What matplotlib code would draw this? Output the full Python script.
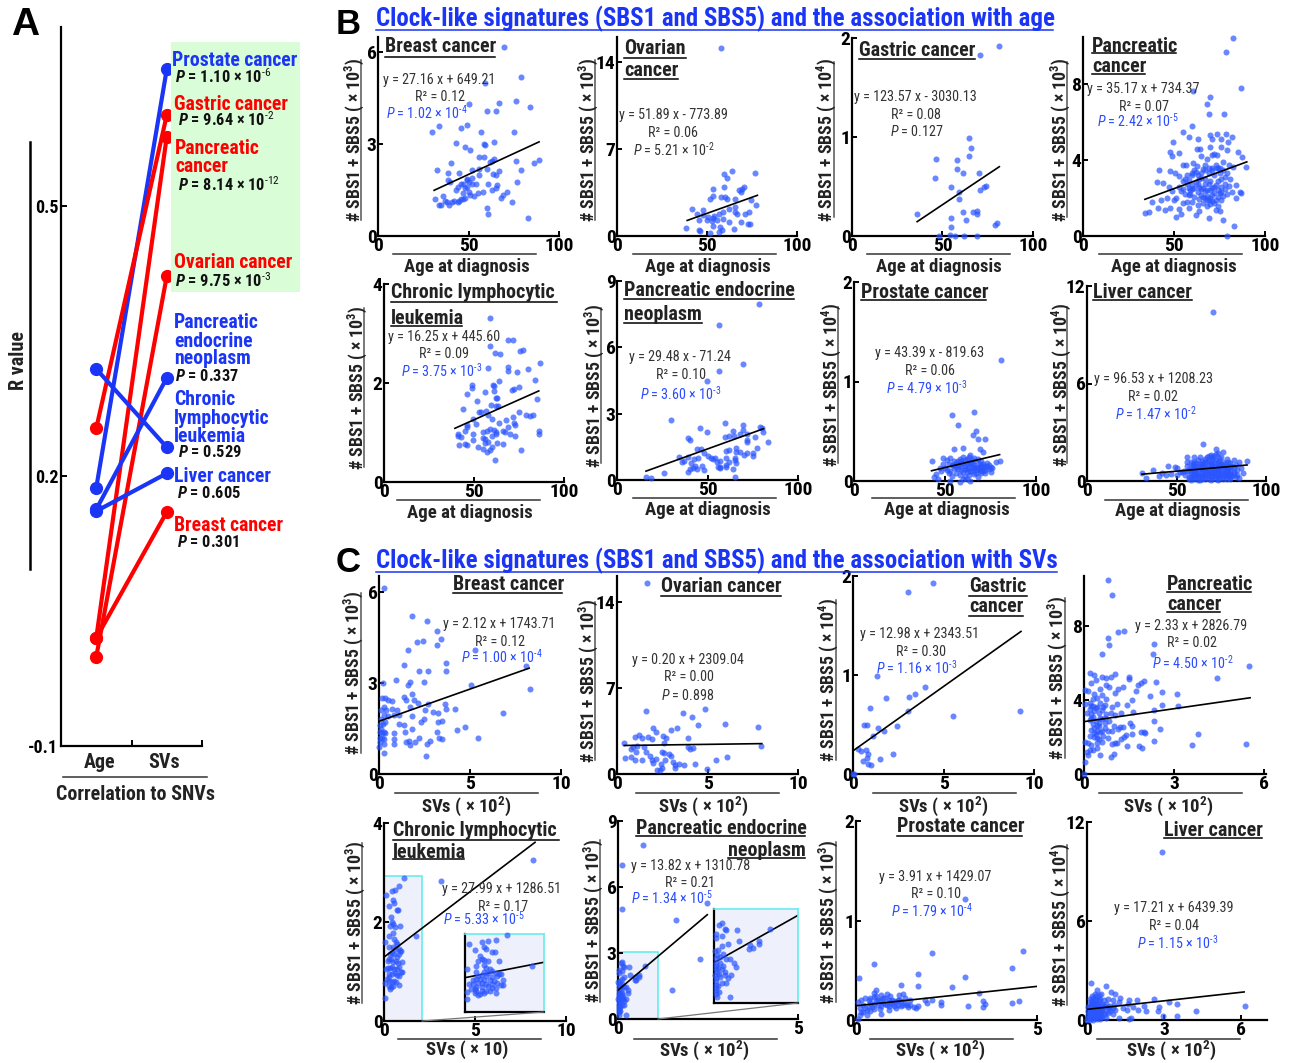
# Clock-like signatures figure: slope panel A, scatter panels B and C

import numpy as np
from matplotlib import pyplot as plt
from matplotlib import font_manager
from matplotlib.lines import Line2D
from matplotlib.patches import Rectangle

W, H = 1292, 1063
installed = set(f.name for f in font_manager.fontManager.ttflist)
FONT = 'Roboto'
for cand in ['Liberation Sans Narrow', 'Roboto Condensed', 'Noto Sans Condensed', 'Open Sans Condensed']:
    if cand in installed:
        FONT = cand
        break
plt.rcParams['font.family'] = [FONT, 'Liberation Sans', 'DejaVu Sans']
plt.rcParams['mathtext.fontset'] = 'custom'
plt.rcParams['mathtext.rm'] = FONT
plt.rcParams['mathtext.it'] = FONT + ':italic'
plt.rcParams['mathtext.bf'] = FONT + ':bold'
plt.rcParams['mathtext.bfit'] = FONT + ':italic:bold'
plt.rcParams['mathtext.default'] = 'regular'

# ---- panel A
a_cancers = ['Prostate', 'Gastric', 'Pancreatic', 'Ovarian', 'PEN', 'CLL', 'Liver', 'Breast']
a_age = [0.187, 0.253, 0.020, -0.001, 0.163, 0.319, 0.161, 0.020]
a_svs = [0.652, 0.601, 0.577, 0.422, 0.309, 0.232, 0.203, 0.160]
a_sig = ['b', 'r', 'r', 'r', 'b', 'b', 'b', 'r']

# ---- panel B, (age, count)
b_breast = [(69.6,6.16),(79,5.17),(59,4.98),(76,4.4),(84,4.22),(67,4.35),(50,4.3),(60,4.08),(65,4.08),(30,3.38),(33.6,3.59),(45.8,3.51),(49,3.62),(57,3.38),(75,3.4),(43,3.02),(48,2.91),(50.7,2.8),(58.5,3.0),(59,2.98),(64,3.05),(56,2.58),(58.5,2.58),(63,2.45),(76,2.44),(89,2.48),(86,2.37),(79,2.15),(32.7,2.15),(40.6,2.37),(38.7,2.07),(45,2.07),(51.7,2.15),(55.7,2.2),(63.6,2.02),(66.8,2.12),(38.7,1.82),(49,1.82),(77,1.77),(31.5,1.2),(33.8,1.0),(35,1.0),(36,1.3),(37,1.15),(38,1.1),(39,1.0),(40,1.75),(41,1.1),(42,1.15),(43,1.5),(44,1.6),(45,1.15),(46,1.2),(47,1.7),(47,1.4),(48,1.25),(48,1.55),(49,1.85),(49,1.6),(50,1.45),(50,1.75),(51,1.35),(52,1.7),(53,1.3),(54,1.7),(55,1.4),(56,2.0),(58,1.45),(60,2.2),(61,1.7),(62,2.4),(63,1.5),(64,2.5),(65,1.55),(66,1.65),(68,1.25),(69,1.35),(71,1.45),(74,1.1),(60,.9),(61,.72),(83,.6),(52,1.9),(47,1.2),(46,1.7),(44,1.1),(65,2.0)]
b_ovarian = [(57.7,15.1),(63.8,5.25),(76.7,5.07),(59.7,4.99),(61,4.64),(53.6,3.75),(59.7,3.9),(70.8,3.9),(67.5,3.7),(68.8,3.56),(69.7,3.75),(53.6,3.2),(51.4,3.0),(57.7,3.15),(60,3.15),(61,2.94),(65.6,2.96),(74.3,2.88),(77,2.48),(41.6,2.2),(48,2.07),(44.4,1.75),(50.8,1.54),(53.6,1.48),(56.4,1.8),(55.5,1.27),(59,1.94),(62,2.2),(65.6,2.34),(65.6,1.94),(66.5,1.8),(71,1.8),(73.5,1.94),(68.8,1.13),(73,1.0),(74,1.0),(62,1.13),(53.6,.78),(57.3,.73),(56.4,.32),(65,.6),(38.4,.65),(45.3,.46),(46,.42),(51.8,.27),(58.2,.51),(50,1.27),(52.7,1.2),(45.3,1.27),(59,1.4),(54,1.6),(47.5,1.7)]
b_gastric = [(81,1.92),(70.9,1.83),(64.8,.99),(66,.885),(64.8,.81),(46.6,.78),(58,.77),(58,.68),(61.1,.64),(70,.64),(46,.59),(54.9,.5),(74,.51),(72.7,.5),(70.9,.46),(58.9,.44),(58.9,.37),(35.9,.22),(61.1,.24),(66.7,.245),(68.9,.25),(68.9,.22),(54.9,.18),(63,.16),(54.9,.09),(80,.135),(79.2,.11),(47.9,0),(54,.015),(57,0),(62,0),(68.9,0)]
b_pancreatic = [(82.6,10.4),(78.4,9.7),(86.6,7.77),(60.7,7.65),(69.8,7.33),(68,6.93),(69,6.42),(77.5,6.42),(59.8,5.79),(54.7,5.46),(58,5.2),(73.5,5.35),(78.6,5.35),(81.7,5.23),(49.7,4.93),(63.4,5.1),(69.8,5.3),(70.8,5.1),(75.7,5.1),(79.5,4.96),(47.9,4.44),(52.8,4.35),(48.8,4.23),(62.5,4.6),(64.3,4.58),(69.8,4.7),(75.7,4.7),(79,4.53),(73.9,4.26),(85.4,4.44),(87.6,4.18),(89.4,3.65),(42,3.47),(47.9,3.44),(55.2,3.74),(56.5,3.74),(60.7,3.82),(62.5,3.7),(67,3.74),(70.8,3.56),(73.5,3.56),(82.6,3.65),(40.6,2.86),(44.2,2.77),(47,2.6),(50.6,3.3),(52.5,3.18),(57,3.2),(59.8,3.2),(63.4,3.2),(65,3.05),(67,3.0),(69,3.3),(72,3.2),(75,3.3),(78,3.1),(81,3.0),(84,2.7),(46,2.0),(49,2.35),(51,2.0),(53,2.6),(55,2.45),(56,2.2),(58,2.5),(59,2.2),(60,2.7),(61,2.05),(62,2.85),(63,2.3),(64,2.6),(65,2.15),(66,2.5),(67,2.35),(68,2.1),(69,2.75),(70,2.0),(71,2.55),(72,2.25),(73,1.9),(74,2.9),(75,2.25),(76,2.6),(77,2.1),(78,2.45),(79,2.2),(80,2.65),(82,2.3),(84,2.0),(86,2.3),(87,2.25),(34,1.2),(36.5,1.25),(38,1.8),(41,1.45),(43,1.9),(45,1.35),(48,1.45),(50,1.9),(51,1.0),(53,1.4),(54,1.15),(55,1.75),(57,1.8),(58,1.45),(60,1.8),(62,1.1),(63,1.65),(64,1.3),(66,1.75),(68,1.6),(69,.95),(71,1.85),(73,1.35),(75,1.3),(77,.85),(79,0),(83,.55),(56,3.0),(61,3.45),(66,3.55),(68,4.05),(71,4.25),(74,3.6),(77,3.9),(65,4.2),(60,3.3),(58,2.95),(55,2.9),(72,4.3),(80,3.75),(76,3.0),(70,2.9),(64,3.0),(62,3.35),(73,2.7),(67,2.0),(69,1.9),(71,2.15),(74,2.05),(60,2.45),(58,2.15),(54,2.35),(57,2.75),(59,2.4),(61,2.55),(63,2.75),(65,2.45),(67,2.75),(68,2.4),(70,2.4),(72,2.6),(74,2.4),(76,2.3),(78,2.75),(64,1.95),(66,2.05),(68,1.9),(70,1.7),(72,1.75),(74,1.6),(76,1.9),(65,3.3),(67,3.45),(69,3.6),(71,3.45),(73,3.75),(75,3.6),(77,3.45),(79,3.3)]
b_cll = [(58.8,3.32),(58.9,2.75),(69,2.87),(71.7,2.87),(75.5,2.65),(77,2.66),(61.5,2.6),(64.5,2.58),(86.5,2.4),(69,2.33),(69,2.25),(80,2.28),(74,2.23),(57.5,2.3),(49,1.95),(49,1.9),(84,2.07),(60.5,1.96),(61,1.94),(64,2.04),(72,1.88),(71,1.86),(75,1.92),(46,1.78),(56,1.81),(61,1.83),(62,1.7),(63,1.7),(51.5,1.63),(85,1.67),(44,1.47),(59.5,1.55),(62,1.53),(63.5,1.53),(53,1.41),(54,1.41),(56.5,1.43),(58,1.36),(75,1.41),(79,1.35),(81,1.34),(83,1.35),(71.5,1.32),(49.5,1.28),(60,1.28),(68,1.25),(72,1.2),(64,1.2),(46,1.16),(46,1.12),(45,1.03),(51,1.17),(73,1.15),(69,1.12),(57,1.03),(59,1.08),(61,1.05),(55,1.02),(62,1.02),(66,1.03),(67,1.0),(86,1.03),(86,.97),(41,.97),(41,.92),(43,.91),(49.5,.97),(49.5,.85),(55,.88),(56,.86),(60,.92),(62,.97),(70,.97),(73,.93),(41.5,.74),(45,.77),(46,.74),(52,.7),(55,.66),(57,.6),(59,.65),(60,.7),(63,.78),(66,.77),(76,.65),(61.5,.45),(56,.78),(58,.8)]
b_pen = [(78.6,7.95),(56.4,7.03),(69.4,5.25),(56.4,4.95),(49.8,4.48),(29.7,2.7),(59.5,2.6),(69.4,2.5),(78.8,2.4),(80,2.35),(46.1,2.35),(49.7,2.15),(39,1.9),(40.6,1.82),(59.7,1.95),(62,1.97),(64,2.2),(64.5,1.97),(68,2.1),(69.5,2.25),(72,2.1),(72,1.82),(72,1.72),(76,1.95),(80.6,2.15),(83.2,1.7),(44,1.4),(46.5,1.4),(48,1.2),(50,1.1),(52,1.0),(54,1.0),(60,1.3),(62,1.35),(65.5,1.45),(66,1.25),(68,1.25),(70,1.15),(72,1.2),(75,1.2),(75,1.1),(77.5,1.45),(34.5,1.05),(39.5,1.05),(36,.8),(37,.85),(42.5,.95),(44.6,1.0),(47,.65),(41,.75),(43,.65),(42,.55),(44,.5),(39,.35),(40.5,.5),(48,.45),(53,.95),(55,.8),(56,.6),(57,.6),(57,.55),(60,.7),(60,1.0),(62,.8),(64,.5),(65,1.0),(65,.9),(66,.75),(65,.15),(16,.15),(19,.1),(26,.3),(57,.85),(60,.6)]
b_prostate = [(80.5,1.22),(54,.66),(65.8,.69),(57,.56),(67,.5),(65.5,.46),(68,.42),(72,.42),(55,.32),(60,.33),(69,.32),(71,.29),(43,.2),(49,.23),(51,.21),(53,.23),(55,.2),(57,.2),(58,.17),(60,.24),(61,.15),(62,.22),(63,.18),(64,.26),(65,.21),(66,.16),(67,.2),(68,.13),(69,.17),(70,.2),(71,.1),(72,.15),(73,.18),(74,.12),(75,.09),(78,.19),(80,.2),(45,.07),(44,.04),(46,.02),(48,.1),(50,.13),(52,.08),(53,.1),(54,.05),(55,.13),(56,.08),(57,.12),(58,.06),(59,.15),(60,.09),(61,.04),(62,.12),(63,.06),(64,.1),(65,.14),(66,.07),(67,.11),(68,.04),(69,.1),(70,.12),(72,.08),(74,.16),(76,.13),(58,-.01),(60,.02),(62,.02),(64,.0),(53,.0),(49,.17),(52,.17),(55,.16),(59,.2),(62,.17),(65,.17),(68,.22),(70,.15),(56,.18),(58,.22),(60,.18),(61,.21),(63,.24),(64,.19),(66,.23),(67,.14),(69,.12),(71,.17),(72,.11),(73,.14),(75,.14),(59,.11),(61,.12),(62,.09),(63,.13),(65,.1),(66,.13),(67,.08),(69,.15),(70,.08),(71,.14),(54,.16),(57,.16),(56,.14),(51,.11),(47,.13)]
b_liver = [(70.3,10.4),(65,2.3),(72,2),(76,1.8),(73,1.7),(69,1.6),(56,1.5),(60,1.45),(63,1.5),(67,1.45),(71,1.55),(75,1.45),(78,1.35),(82,1.3),(85,1.2),(89.5,1.25),(31,.5),(37,.65),(42,.5),(45,.9),(49,.85),(50,.8),(53,.55),(56,1.2),(58,1.15),(60,1.2),(62,1.3),(64,1.25),(66,1.2),(68,1.3),(70,1.35),(72,1.3),(74,1.25),(76,1.15),(80,1.1),(83,1.0),(86,.8),(56,.9),(58,.85),(60,.95),(62,.9),(64,1.0),(66,.85),(68,1.0),(70,1.05),(72,.95),(74,1.0),(76,.9),(78,.95),(80,.85),(82,.8),(84,.7),(87,.5),(33,.2),(40,.3),(44,.35),(47,.45),(50,.4),(52,.55),(54,.6),(55,.35),(56,.6),(58,.55),(60,.6),(62,.65),(64,.7),(66,.6),(68,.7),(70,.75),(72,.7),(74,.75),(76,.65),(78,.7),(80,.6),(82,.55),(84,.4),(85,.2),(57,.25),(59,.3),(61,.35),(63,.3),(65,.4),(67,.35),(69,.45),(71,.4),(73,.45),(75,.4),(77,.35),(79,.4),(81,.3),(83,.25),(58,.05),(60,.1),(62,.05),(64,.15),(66,.1),(68,.15),(70,.2),(72,.15),(74,.2),(76,.1),(78,.15),(80,.1),(57,.1),(63,.05),(69,.05),(73,.05),(59,.8),(65,.75),(71,.85),(77,.8),(61,.5),(67,.55),(73,.6),(79,.55),(59,1.05),(61,1.1),(63,1.05),(65,1.1),(67,1.15),(69,1.1),(71,1.15),(73,1.1),(75,1.05),(77,1.05),(79,1.15),(81,.95),(57,.7),(59,.65),(61,.75),(63,.8),(65,.9),(67,.8),(69,.9),(71,.65),(73,.8),(75,.85),(77,.6),(79,.75),(58,.4),(60,.45),(62,.45),(64,.5),(66,.45),(68,.5),(70,.55),(72,.5),(74,.55),(76,.5),(78,.5),(80,.45),(82,.45),(60,.25),(62,.25),(64,.3),(66,.25),(68,.3),(70,.3),(72,.3),(74,.35),(76,.25),(78,.3),(80,.25),(66,1.35),(70,1.5),(74,1.4),(68,1.55),(72,1.65)]

# ---- panel C, (SVs, count)
c_breast = [(.3,6.15),(1.8,5.2),(2.65,5.05),(3.2,4.7),(3.4,4.45),(2.4,4.4),(2.1,4.35),(3.2,4.25),(1.6,4.1),(5.25,4.1),(1.4,3.6),(3.7,3.65),(3.7,3.4),(2.2,3.4),(2.7,3.4),(8.1,3.55),(.95,3.1),(.2,3.0),(1.7,3.05),(2.45,3.05),(1.6,2.95),(5.05,2.95),(8.3,2.8),(.15,2.5),(.35,2.5),(.5,2.45),(.7,2.4),(1.4,2.55),(1.5,2.45),(1.8,2.65),(1.9,2.45),(2.15,2.35),(2.7,2.3),(3.6,2.3),(3.7,2.15),(4.2,2.15),(.1,2.1),(.25,2.2),(.4,2.1),(.7,2.15),(1.0,2.1),(1.7,2.2),(1.8,1.9),(2.5,2.1),(2.95,2.05),(3.25,2.0),(6.8,2.0),(.1,1.8),(.3,1.95),(.5,1.9),(.8,1.95),(1.1,1.95),(2.45,1.8),(2.3,1.7),(3.45,1.75),(3.25,1.7),(.05,1.6),(.1,1.5),(.2,1.65),(.35,1.7),(1.1,1.65),(1.4,1.6),(.05,1.4),(.15,1.35),(.25,1.4),(.35,1.35),(.85,1.35),(1.45,1.4),(1.8,1.5),(3.2,1.4),(4.3,1.45),(4.75,1.55),(.05,1.2),(.15,1.2),(.3,1.15),(.8,1.15),(1.65,1.1),(3.3,1.2),(3.45,1.15),(5.45,1.2),(.05,1.05),(.3,1.0),(.8,1.0),(1.5,1.05),(1.7,.95),(2.0,1.05),(2.2,1.2),(2.65,1.0),(2.8,1.1),(.0,.9),(.3,.7),(2.6,.6)]
c_ovarian = [(1.65,15.5),(1.6,5.1),(3.65,5.0),(4.85,5.3),(4.15,4.6),(4.5,4.0),(5.95,4.1),(7.8,3.85),(2,3.7),(2.15,3.4),(3.0,3.6),(3.3,3.7),(2.55,3.1),(1.2,3.2),(1.0,3.0),(1.4,2.9),(1.7,3.0),(1.95,2.85),(2.7,2.9),(3.95,2.9),(.4,2.5),(.9,2.2),(1.1,2.25),(1.5,2.2),(2.6,2.5),(3.95,2.2),(4.05,2.0),(4.2,2.1),(7.95,2.25),(.8,2.0),(1.05,1.8),(1.6,1.8),(1.8,1.5),(2.5,1.8),(2.6,1.7),(2.85,1.6),(3.0,1.5),(.45,1.3),(.75,1.4),(1.0,1.1),(1.4,1.15),(1.95,1.1),(2.15,1.2),(2.65,1.15),(3.1,1.0),(3.4,.8),(3.7,.7),(4.3,.8),(5.45,1.15),(6.1,1.35),(2.0,.9),(2.45,.8),(3.2,.7),(2.2,.3),(2.5,.45),(2.4,.3),(3.2,.45),(4.95,.4)]
c_gastric = [(4.4,1.93),(3.05,1.84),(1.3,.99),(1.8,.77),(4.0,.88),(3.4,.81),(3.1,.78),(.95,.67),(3.05,.64),(9.25,.64),(5.5,.59),(.6,.5),(.75,.49),(2.45,.48),(1.4,.46),(1.7,.43),(1.1,.38),(.25,.25),(.45,.23),(.7,.24),(.85,.2),(.8,.16),(2.2,.2),(1.5,.15),(.55,.13),(.85,.1),(1.0,.09),(0,0),(.05,0)]
c_pancreatic = [(.8,10.5),(.95,9.7),(1.15,7.65),(1.35,7.75),(.8,7.35),(.85,6.95),(.6,6.5),(2.35,7.0),(2.3,6.5),(5.5,5.85),(4.45,5.2),(.2,5.45),(.35,5.35),(.4,5.1),(.6,5.25),(.75,5.2),(.9,5.25),(1.05,5.4),(1.5,5.25),(1.5,5.15),(2.0,5.0),(2.4,4.95),(1.9,4.9),(1.8,4.8),(.25,4.9),(.55,4.6),(.75,4.8),(.85,4.7),(1.15,4.6),(1.3,4.7),(1.75,4.5),(2.6,4.45),(.05,4.55),(.15,4.5),(.35,4.3),(.45,4.1),(.6,4.25),(.75,4.05),(1.05,4.4),(2.2,4.2),(3.1,4.35),(.05,3.8),(.2,3.85),(.3,3.7),(.45,3.6),(.55,3.85),(.7,3.75),(.95,3.6),(1.1,3.8),(1.45,3.75),(1.6,4.0),(2.6,3.75),(3.15,3.7),(.1,3.3),(.2,3.5),(.25,3.25),(.35,3.4),(.5,3.3),(.6,3.45),(.75,3.25),(.9,3.3),(1.05,3.2),(1.25,3.3),(1.65,3.35),(2.35,3.45),(.2,2.9),(.3,2.7),(.4,2.85),(.45,2.6),(.6,2.95),(.7,2.75),(.85,2.85),(1.0,2.6),(1.2,2.55),(1.3,2.55),(1.55,2.75),(1.6,2.6),(2.35,2.85),(2.55,2.45),(.25,2.4),(.35,2.5),(.45,2.3),(.55,2.25),(.7,2.5),(.8,2.35),(.95,2.3),(1.15,2.45),(1.4,2.1),(1.6,2.15),(1.9,2.25),(2.0,2.25),(2.05,2.2),(.2,2.05),(.35,2.0),(.5,1.9),(.65,2.05),(.8,1.95),(.95,1.6),(1.05,1.7),(1.25,1.9),(1.35,2.0),(2.35,1.8),(3.8,2.15),(.05,1.75),(.15,1.65),(.25,1.55),(.45,1.7),(.6,1.75),(1.1,1.65),(1.45,1.5),(1.85,1.5),(1.95,1.4),(3.6,1.55),(5.4,1.6),(.1,1.2),(.15,1.0),(.2,1.3),(.3,1.3),(.45,1.4),(.55,1.0),(1.0,1.1),(.9,.9),(.05,.65),(0,0),(.3,3.1),(.4,3.55),(.5,2.75),(.55,3.05),(.65,3.6),(.4,2.15),(.5,2.6),(.6,2.35),(.7,3.0),(.25,3.05),(.35,2.2),(.45,1.95),(.3,4.05),(.25,3.7)]
c_cll = [(8.17,3.25),(3.12,2.82),(1.1,2.88),(.8,2.72),(.6,2.65),(.45,2.62),(.1,2.55),(.5,2.45),(.25,2.33),(.55,2.38),(.72,2.25),(.78,2.24),(.4,2.1),(.45,2.0),(.35,1.92),(.5,1.95),(.6,1.9),(.9,1.92),(.05,1.6),(1.75,1.72),(.3,1.72),(.5,1.78),(.55,1.65),(.65,1.6),(.72,1.55),(.5,1.5),(.6,1.45),(.8,1.45),(.9,1.42),(.95,1.42),(.35,1.35),(.45,1.38),(.55,1.35),(.85,1.35),(.2,1.22),(.3,1.25),(.5,1.2),(.65,1.22),(.75,1.18),(1.0,1.2),(.1,1.05),(.2,1.07),(.35,1.08),(.45,1.1),(.55,1.05),(.7,1.05),(.85,1.1),(1.0,1.0),(.3,.95),(.45,.95),(.6,.97),(.7,.92),(.8,.9),(.95,1.0),(.15,.85),(.25,.88),(.05,.77),(.3,.8),(.45,.78),(.55,.8),(.65,.78),(.8,.72),(.25,.7),(.35,.65),(.4,.68),(.5,.7),(.05,.47),(.3,1.5),(.7,1.3),(.4,1.25)]
c_pen = [(.7,7.92),(.1,7.0),(.1,5.0),(2.48,5.27),(1.62,4.48),(2.29,2.73),(1.5,1.33),(.74,2.41),(.59,2.02),(.59,1.91),(.47,1.89),(.51,1.78),(.46,1.76),(.33,2.02),(.3,2.38),(.16,2.38),(.14,2.4),(.1,2.6),(.07,2.54),(.03,2.25),(.03,2.11),(.11,2.18),(.18,1.91),(.1,1.84),(.05,1.73),(.04,1.57),(.16,1.44),(.21,1.44),(.27,1.3),(.29,1.17),(.23,.9),(.18,.81),(.21,.18),(.1,.65),(.02,1.45),(.02,1.3),(.03,1.2),(.02,1.1),(.04,1.0),(.01,.9),(.03,.8),(.02,.7),(.03,.6),(.02,.5),(.03,.4),(.02,.3),(.04,.2),(.01,1.7),(.05,1.15),(.08,1.3),(.1,1.1),(.12,1.2),(.14,1.0),(.08,.85),(.06,.95),(.05,.55),(.06,.35),(.15,.9),(.16,.65),(.08,1.5),(.12,1.6)]
c_prostate = [(3.0,1.22),(2.1,.67),(4.6,.69),(.5,.56),(4.3,.52),(1.7,.46),(3.0,.43),(.08,.42),(1.25,.35),(1.7,.34),(2.65,.33),(.55,.3),(.5,.27),(3.4,.27),(2.1,.2),(3.5,.19),(3.55,.16),(2.35,.18),(2.35,.15),(4.3,.17),(4.5,.19),(1.9,.2),(1.95,.17),(3.1,.14),(3.5,.13),(.05,.18),(.1,.12),(.15,.2),(.2,.15),(.25,.22),(.3,.1),(.35,.2),(.4,.17),(.45,.13),(.5,.23),(.55,.19),(.6,.15),(.65,.2),(.7,.25),(.75,.17),(.8,.22),(.85,.15),(.9,.2),(.95,.18),(1.0,.16),(1.05,.14),(1.1,.18),(1.15,.15),(1.2,.25),(1.25,.19),(1.3,.26),(1.35,.17),(1.4,.15),(1.45,.13),(1.6,.13),(1.65,.12),(1.7,.14),(.1,.05),(.05,.01),(.2,.08),(.3,.05),(.4,.09),(.5,.11),(.7,.06),(.65,.11),(.9,.1),(1.1,.12),(1.5,.2),(1.2,.2),(.95,.24),(.85,.26),(.55,.24),(.6,.2),(.7,.14),(.75,.22),(.8,.16),(.9,.14),(1.0,.2),(1.05,.19),(1.15,.2),(1.25,.14),(1.3,.15),(1.35,.22),(1.5,.15),(.35,.14),(.4,.22),(.25,.12),(.15,.08),(.5,.16)]
c_liver = [(2.9,10.2),(.15,2.25),(.75,2.05),(.4,1.8),(.95,1.7),(.3,1.6),(.55,1.55),(.45,1.5),(1.1,1.55),(1.3,1.35),(1.65,1.2),(1.95,1.2),(2.6,1.3),(3.2,1.1),(3.5,.95),(.1,1.3),(.2,1.45),(.35,1.3),(.5,1.25),(.65,1.2),(.8,1.3),(1.0,1.2),(1.25,1.1),(1.6,1.0),(2.2,.85),(2.8,.8),(.1,1.0),(.2,1.1),(.3,1.05),(.4,1.0),(.5,.95),(.6,1.0),(.75,.95),(.9,.85),(1.05,.9),(1.4,.7),(1.8,.8),(2.3,.55),(2.75,.55),(4.25,.55),(6.15,.85),(.05,.8),(.15,.85),(.25,.8),(.35,.75),(.45,.8),(.55,.75),(.7,.7),(.85,.65),(1.1,.6),(1.55,.6),(2.0,.6),(2.95,.25),(3.5,.25),(.05,.55),(.15,.6),(.25,.55),(.35,.5),(.45,.55),(.55,.5),(.65,.45),(.8,.4),(1.0,.35),(1.25,.1),(1.7,.1),(.05,.3),(.1,.35),(.2,.35),(.3,.3),(.4,.3),(.5,.25),(.6,.2),(.75,.15),(.05,.1),(.1,.15),(.2,.1),(.3,.1),(.4,.05),(.5,.05),(0,0),(.1,.02),(.25,.03),(1.65,.05),(.1,.45),(.2,.7),(.25,.95),(.3,.65),(.35,.9),(.4,.6),(.45,1.2),(.5,.7),(.15,1.15),(.2,.9),(.1,.65),(.3,.45),(.35,.2),(.4,.85),(.2,.5),(.25,.2),(.15,.25),(.1,.8),(.4,.45),(.45,.35),(.3,1.2),(.35,1.45),(.25,1.35),(.15,.45),(.5,.4),(.55,.25),(.6,.6),(.65,.85),(.7,.35),(.8,.8),(.9,.55),(1.0,.7)]

# ---- regression lines, end points
b_fits = [([31,89],[1.49,3.07]), ([39,78],[1.25,3.27]), ([36,81.4],[.145,.70]), ([34,90],[1.93,3.9]),
          ([39.4,86],[1.085,1.84]), ([16,81],[.40,2.32]), ([42.6,80],[.103,.265]), ([30.7,89.4],[.417,.984])]
c_fits = [([0,8.25],[1.74,3.49]), ([.4,8],[2.32,2.47]), ([0,9.28],[.234,1.44]), ([0,5.54],[2.83,4.12]),
          ([0,8.3],[1.29,3.61]), ([0,2.48],[1.31,4.74]), ([0,5],[.143,.338]), ([0,6.11],[.644,1.70])]

y3 = '# SBS1 + SBS5 ( × 10$^{3}$)'
y4 = '# SBS1 + SBS5 ( × 10$^{4}$)'
sv2 = 'SVs ( × 10$^{2}$)'

# ---- layout of the scatter panels in pixels
# left, bottom, right, top, xmax, ymax, xticks, yticks
frames_b = [(378,236,559,37,100,6.49,[0,50,100],[0,3,6]), (617,236,797,37,100,16,[0,50,100],[0,7,14]),
            (852,236,1033,38,100,2,[0,50,100],[0,1,2]), (1083,236,1265,37,100,10.47,[0,50,100],[0,4,8]),
            (384,482,564,284,100,4,[0,50,100],[0,2,4]), (617,480,798,281,100,9,[0,50,100],[0,3,6,9]),
            (854,481,1036,282,100,2,[0,50,100],[0,1,2]), (1087,481,1266,286,100,12,[0,50,100],[0,6,12])]
frames_c = [(379,774,561,576,10,6.53,[0,5,10],[0,3,6]), (617,774,798,576,10,16.1,[0,5,10],[0,7,14]),
            (853,774,1034,576,10,2,[0,5,10],[0,1,2]), (1084,774,1266,576,6.07,10.7,[0,3,6],[0,4,8]),
            (384,1021,566,823,10,4,[0,5,10],[0,2,4]), (618,1019,798,821,5,9,[0,5],[0,3,6,9]),
            (856,1020,1037,821,5,2,[0,5],[0,1,2]), (1087,1020,1267,822,7,12,[0,3,6],[0,6,12])]

# title lines: text, left, text y, underline right, underline y
titles_b = [[('Breast cancer',385,47,495,57)],
            [('Ovarian',624,48,686,58),('cancer',624,70,678,79)],
            [('Gastric cancer',859,50,975,59)],
            [('Pancreatic',1092,46,1176,53),('cancer',1092,67,1145,74)],
            [('Chronic lymphocytic',391,293,557,302),('leukemia',391,318,462,326)],
            [('Pancreatic endocrine',624,290,794,299),('neoplasm',624,314,702,323)],
            [('Prostate cancer',861,292,986,300)],
            [('Liver cancer',1093,292,1192,300)]]
titles_c = [[('Breast cancer',453,584,562,593)],
            [('Ovarian cancer',661,587,781,596)],
            [('Gastric',969,587,1027,596),('cancer',969,607,1023,616)],
            [('Pancreatic',1167,585,1251,592),('cancer',1167,605,1220,612)],
            [('Chronic lymphocytic',393,831,559,840),('leukemia',393,852,464,859)],
            [('Pancreatic endocrine',636,828,805,836),('neoplasm',728,850,805,858)],
            [('Prostate cancer',897,827,1022,836)],
            [('Liver cancer',1164,830,1262,838)]]

# stats: equation, R2, P text, P is significant, then x,y of each of the three
stats_b = [('y = 27.16 x + 649.21','0.12','1.02 × 10$^{\\text{-4}}$',True,(439,80),(440,97),(427,113)),
           ('y = 51.89 x - 773.89','0.06','5.21 × 10$^{\\text{-2}}$',False,(673,115),(673,133),(674,150)),
           ('y = 123.57 x - 3030.13','0.08','0.127',False,(915,97),(916,115),(917,132)),
           ('y = 35.17 x + 734.37','0.07','2.42 × 10$^{\\text{-5}}$',True,(1143,89),(1144,107),(1138,121)),
           ('y = 16.25 x + 445.60','0.09','3.75 × 10$^{\\text{-3}}$',True,(444,337),(444,354),(442,371)),
           ('y = 29.48 x - 71.24','0.10','3.60 × 10$^{\\text{-3}}$',True,(680,357),(681,375),(681,394)),
           ('y = 43.39 x - 819.63','0.06','4.79 × 10$^{\\text{-3}}$',True,(930,353),(930,371),(927,388)),
           ('y = 96.53 x + 1208.23','0.02','1.47 × 10$^{\\text{-2}}$',True,(1153,379),(1153,397),(1156,414))]
stats_c = [('y = 2.12 x + 1743.71','0.12','1.00 × 10$^{\\text{-4}}$',True,(499,624),(500,642),(502,657)),
           ('y = 0.20 x + 2309.04','0.00','0.898',False,(688,660),(689,677),(688,696)),
           ('y = 12.98 x + 2343.51','0.30','1.16 × 10$^{\\text{-3}}$',True,(920,634),(921,652),(917,668)),
           ('y = 2.33 x + 2826.79','0.02','4.50 × 10$^{\\text{-2}}$',True,(1191,626),(1192,643),(1193,663)),
           ('y = 27.99 x + 1286.51','0.17','5.33 × 10$^{\\text{-5}}$',True,(502,889),(503,907),(484,919)),
           ('y = 13.82 x + 1310.78','0.21','1.34 × 10$^{\\text{-5}}$',True,(691,866),(690,883),(672,898)),
           ('y = 3.91 x + 1429.07','0.10','1.79 × 10$^{\\text{-4}}$',True,(935,877),(936,894),(932,911)),
           ('y = 17.21 x + 6439.39','0.04','1.15 × 10$^{\\text{-3}}$',True,(1174,908),(1174,926),(1178,943))]

# y label: text, x, line x, y top, y bottom
ylabs_b = [(y3,354,361,60,220),(y3,588,595,60,220),(y4,826,834,62,217),(y3,1060,1067,62,217),
           (y3,357,364,308,467),(y3,594,601,308,463),(y4,831,838,307,463),(y4,1061,1067,307,463)]
ylabs_c = [(y3,353,361,593,753),(y3,588,595,602,760),(y4,828,836,600,760),(y3,1057,1065,598,758),
           (y3,355,362,843,1003),(y3,593,600,840,1002),(y3,828,836,842,1002),(y4,1060,1067,845,1005)]
# x label: text, text x, text y, line left, line y
xlabs_b = [('Age at diagnosis',467,267,393,254),('Age at diagnosis',708,267,633,254),
           ('Age at diagnosis',939,267,867,254),('Age at diagnosis',1174,267,1099,254),
           ('Age at diagnosis',470,513,397,500),('Age at diagnosis',708,510,633,498),
           ('Age at diagnosis',947,510,872,498),('Age at diagnosis',1178,511,1105,500)]
xlabs_c = [(sv2,466,806,395,793),(sv2,703,806,636,793),(sv2,943,806,873,793),(sv2,1168,806,1099,793),
           ('SVs ( × 10)',467,1050,398,1039),(sv2,704,1050,634,1039),(sv2,940,1050,870,1039),(sv2,1171,1050,1097,1039)]

BLUE = '#2a4bff'
HEAD = '#1a35f5'
DOT = '#2a55ff'
RED = '#ff0000'
INK = '#222222'

fig = plt.figure(figsize=(W/100., H/100.), dpi=100)

def put(x, y, s, **kw):
    kw.setdefault('ha', 'center')
    kw.setdefault('va', 'center')
    fig.text(x/W, 1 - y/H, s, **kw)

def rule(x0, y0, x1, y1, color='k', lw=1.1):
    fig.add_artist(Line2D([x0/W, x1/W], [1 - y0/H, 1 - y1/H], color=color, lw=lw))

def frame(left, bottom, right, top):
    return fig.add_axes([left/W, 1 - bottom/H, (right-left)/W, (bottom-top)/H])

def dots(ax, pts):
    x, y = np.array(pts).T
    ax.scatter(x, y, s=19, color=DOT, alpha=0.7, linewidths=0, clip_on=False, zorder=3)

def scatter_panel(pts, fit, fr, title, stat, ylab, xlab):
    left, bottom, right, top, xmax, ymax, xt, yt = fr
    ax = frame(left, bottom, right, top)
    ax.patch.set_alpha(0)
    ax.set_xlim(0, xmax)
    ax.set_ylim(0, ymax)
    for s in ['top', 'right']:
        ax.spines[s].set_visible(False)
    for s in ['left', 'bottom']:
        ax.spines[s].set_linewidth(1.6)
    ax.set_xticks(xt)
    ax.set_yticks(yt)
    ax.tick_params(direction='in', length=3.5, width=1.4, pad=1, labelsize=14)
    for t in ax.get_xticklabels() + ax.get_yticklabels():
        t.set_fontweight('bold')
    dots(ax, pts)
    ax.plot(fit[0], fit[1], color='k', lw=1.2, zorder=4)
    for txt, x, y, xr, yu in title:
        put(x, y, txt, ha='left', fontsize=14.4, fontweight='bold', color=INK)
        rule(x, yu, xr, yu)
    eq, r2, p, sig, p1, p2, p3 = stat
    put(p1[0], p1[1], eq, fontsize=10.2, color='#333333')
    put(p2[0], p2[1], 'R² = ' + r2, fontsize=10.2, color='#333333')
    put(p3[0], p3[1], '$\\mathit{P}$ = ' + p, fontsize=10.2, color=BLUE if sig else '#333333')
    txt, x, xl, y0, y1 = ylab
    put(x, (y0 + y1)/2., txt, rotation=90, fontsize=12.8, fontweight='bold', color=INK)
    rule(xl, y0, xl, y1, color='#555555')
    txt, x, y, xl, yl = xlab
    put(x, y, txt, fontsize=13.5, fontweight='bold', color=INK)
    rule(xl, yl, xl + 143, yl, color='#333333')
    return ax

def zoom_box(ax, pts, fit, xmax, ymax, box, end):
    ax.add_patch(Rectangle((0, 0), xmax, ymax, facecolor='#eef1fc', edgecolor='#66eeee', lw=1.2, zorder=1))
    left, bottom, right, top = box
    ins = frame(left, bottom, right, top)
    ins.set_facecolor('#eef1fc')
    ins.set_xlim(0, xmax)
    ins.set_ylim(0, ymax)
    ins.set_xticks([])
    ins.set_yticks([])
    for s in ['top', 'right']:
        ins.spines[s].set_color('#66eeee')
        ins.spines[s].set_linewidth(1.2)
    for s in ['left', 'bottom']:
        ins.spines[s].set_linewidth(1.6)
    x, y = np.array(pts).T
    keep = (x <= xmax) & (y <= ymax)
    ins.scatter(x[keep], y[keep], s=19, color=DOT, alpha=0.7, linewidths=0, clip_on=False, zorder=3)
    ins.plot(fit[0], fit[1], color='k', lw=1.2)
    rule(end[0], end[1], right, bottom, color='#777777', lw=0.9)

# ---- panel A
ax = frame(61, 746, 202, 27)
ax.patch.set_alpha(0)
ax.set_xlim(0, 2)
ax.set_ylim(-0.1, 0.699)
for s in ['top', 'right']:
    ax.spines[s].set_visible(False)
for s in ['left', 'bottom']:
    ax.spines[s].set_linewidth(1.6)
ax.set_xticks([1, 2])
ax.set_xticklabels([])
ax.set_yticks([-0.1, 0.2, 0.5])
ax.set_yticklabels(['-0.1', '0.2', '0.5'], fontweight='bold', fontsize=13)
ax.tick_params(direction='in', length=4, width=1.4, pad=2)
fig.patches.append(Rectangle((171/W, 1 - 292/H), 129/W, 250/H, transform=fig.transFigure,
                             facecolor='#d9fdd6', edgecolor='none'))
for i in range(len(a_cancers)):
    c = HEAD if a_sig[i] == 'b' else RED
    ax.plot([0.5, 1.5], [a_age[i], a_svs[i]], color=c, lw=3, marker='o', ms=8.5,
            clip_on=False, solid_capstyle='round')

put(25, 25, 'A', fontsize=28, fontweight='bold', family='Liberation Sans')
put(18, 360, 'R value', rotation=90, fontsize=14.5, fontweight='bold', color=INK)
rule(30, 142, 30, 569, lw=1.8)
put(100, 762, 'Age', fontsize=14.4, fontweight='bold', color=INK)
put(164, 762, 'SVs', fontsize=14.4, fontweight='bold', color=INK)
rule(63, 777, 207, 777, color='#333333')
put(135, 794, 'Correlation to SNVs', fontsize=14.4, fontweight='bold', color=INK)

a_names = [('Prostate cancer',172,60,HEAD),('Gastric cancer',174,104,RED),('Pancreatic',175,148,RED),
           ('cancer',175,167,RED),('Ovarian cancer',174,263,RED),('Pancreatic',174,322,HEAD),
           ('endocrine',174,341,HEAD),('neoplasm',174,359,HEAD),('Chronic',174,400,HEAD),
           ('lymphocytic',174,419,HEAD),('leukemia',174,437,HEAD),('Liver cancer',174,477,HEAD),
           ('Breast cancer',174,525,RED)]
for txt, x, y, c in a_names:
    put(x, y, txt, ha='left', fontsize=14.2, fontweight='bold', color=c)
a_pvals = [('1.10 × 10$^{\\text{-6}}$',175,77),('9.64 × 10$^{\\text{-2}}$',178,120),
           ('8.14 × 10$^{\\text{-12}}$',178,185),('9.75 × 10$^{\\text{-3}}$',175,281),
           ('0.337',175,376),('0.529',178,452),('0.605',177,493),('0.301',177,542)]
for txt, x, y in a_pvals:
    put(x, y, '$\\mathbfit{P}$ = ' + txt, ha='left', fontsize=11.8, fontweight='bold', color='#111111')

# ---- panels B and C
put(348, 24, 'B', fontsize=25, fontweight='bold', family='Liberation Sans')
put(376, 19, 'Clock-like signatures (SBS1 and SBS5) and the association with age', ha='left',
    fontsize=17.9, fontweight='bold', color=HEAD)
rule(376, 30, 1053, 30, color=HEAD)
put(348, 563, 'C', fontsize=25, fontweight='bold', family='Liberation Sans')
put(376, 561, 'Clock-like signatures (SBS1 and SBS5) and the association with SVs', ha='left',
    fontsize=17.9, fontweight='bold', color=HEAD)
rule(376, 572, 1057, 572, color=HEAD)

b_data = [b_breast, b_ovarian, b_gastric, b_pancreatic, b_cll, b_pen, b_prostate, b_liver]
c_data = [c_breast, c_ovarian, c_gastric, c_pancreatic, c_cll, c_pen, c_prostate, c_liver]

for i in range(8):
    scatter_panel(b_data[i], b_fits[i], frames_b[i], titles_b[i], stats_b[i], ylabs_b[i], xlabs_b[i])
axes_c = []
for i in range(8):
    axes_c.append(scatter_panel(c_data[i], c_fits[i], frames_c[i], titles_c[i], stats_c[i], ylabs_c[i], xlabs_c[i]))

zoom_box(axes_c[4], c_cll, c_fits[4], 2.07, 2.93, (465, 1012, 544, 934), (422, 1021))
zoom_box(axes_c[5], c_pen, c_fits[5], 1.11, 3.05, (714, 1003, 798, 909), (658, 1019))

plt.savefig('out.png', dpi=100)
